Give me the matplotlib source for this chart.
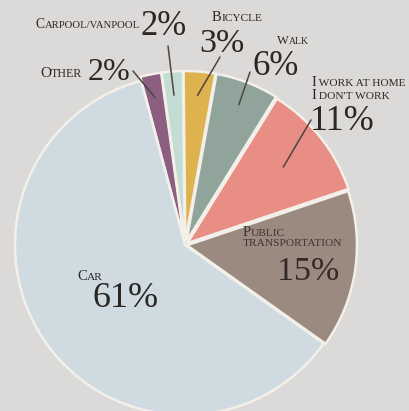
import numpy as np
import matplotlib
matplotlib.use("Agg")
import matplotlib.pyplot as plt
from matplotlib.offsetbox import TextArea, HPacker, VPacker, AnnotationBbox

# data (clockwise from the top)
categories = ["Other", "Carpool/vanpool", "Bicycle", "Walk",
              "I work at home\nI don't work", "Public\ntransportation", "Car"]
shares = [2, 2, 3, 6, 11, 15, 61]
colors = ["#8c5f80", "#c3ddd4", "#deb24f", "#90a49c", "#e98e84", "#9b8a80", "#cfdbe0"]

W, H = 409, 411
BG = "#dcdad8"
INK = "#2b2725"
SERIF = ["Liberation Serif", "DejaVu Serif"]


def Y(y):
    # picture rows -> data y
    return H - y


def small_caps(text, size, color=INK):
    lines = []
    for line in text.split("\n"):
        runs = []
        for ch in line:
            big = ch.isupper() or ch.isdigit()
            if runs and runs[-1][0] == big:
                runs[-1][1] += ch
            else:
                runs.append([big, ch])
        parts = [TextArea(s.upper(), textprops=dict(size=size if big else size * 0.78,
                                                    family=SERIF, color=color))
                 for big, s in runs]
        lines.append(HPacker(children=parts, align="baseline", pad=0, sep=0))
    return VPacker(children=lines, align="left", pad=0, sep=0)


fig = plt.figure(figsize=(W / 100, H / 100), dpi=100, facecolor=BG)
ax = fig.add_axes([0, 0, 1, 1])
ax.set_facecolor(BG)

explode = [4, 4, 4, 4, 3, 2, 0]
wedges, _ = ax.pie(shares, colors=colors, startangle=105, counterclock=False,
                   center=(185, Y(245)), radius=170, explode=explode,
                   wedgeprops=dict(edgecolor="#f3f0ea", linewidth=1.8))
ax.set_xlim(0, W)
ax.set_ylim(0, H)
ax.axis("off")


def add_label(text, x, y, size, color=INK):
    ab = AnnotationBbox(small_caps(text, size, color), (x, Y(y)), xycoords="data",
                        box_alignment=(0, 0), frameon=False, pad=0)
    ax.add_artist(ab)


def add_pct(text, x, y, size, color=INK):
    ax.text(x, Y(y), text, family=SERIF, size=size, color=color,
            ha="left", va="baseline")


def leader(i, x, y, frac=0.86):
    w = wedges[i]
    mid = np.deg2rad((w.theta1 + w.theta2) / 2)
    cx, cy = w.center
    ex, ey = cx + frac * w.r * np.cos(mid), cy + frac * w.r * np.sin(mid)
    ax.plot([x, ex], [Y(y), ey], color="#4a4644", lw=1.1, solid_capstyle="round")


# Other
add_label("Other", 40, 80, 11)
add_pct("2%", 88, 80, 23)
leader(0, 133, 71)

# Carpool
add_label("Carpool/vanpool", 36, 31, 9.8)
add_pct("2%", 140, 35, 25)
leader(1, 168, 46)

# Bicycle
add_label("Bicycle", 212, 24, 10.5)
add_pct("3%", 199, 52, 24.5)
leader(2, 220, 57)

# Walk
add_label("Walk", 277, 47, 9)
add_pct("6%", 252, 75, 25)
leader(3, 250, 72)

# Work at home / don't work
add_label("I work at home\nI don't work", 311, 102, 10.5)
add_pct("11%", 310, 130, 26)
leader(4, 311, 120, 0.72)

# Public transportation
add_label("Public\ntransportation", 243, 248, 10.5, "#3d3430")
add_pct("15%", 277, 280, 24.5, "#332b28")

# Car
add_label("Car", 77, 283, 10.5)
add_pct("61%", 93, 307, 26)

fig.savefig("out.png", dpi=100, facecolor=BG)
